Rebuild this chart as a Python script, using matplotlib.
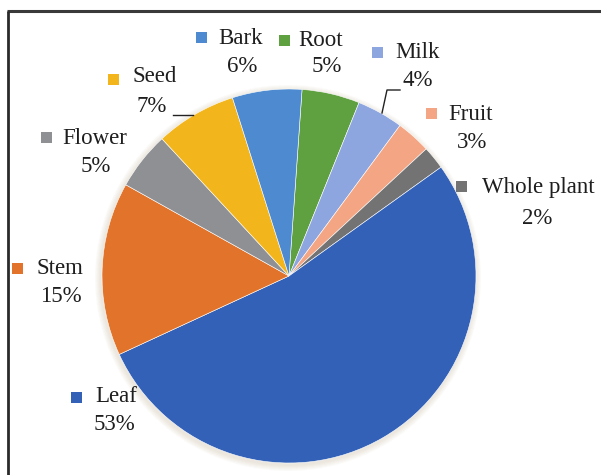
import matplotlib.pyplot as plt
from matplotlib.patches import Rectangle, Circle

# data, clockwise from the top of the pie
parts = ["Root", "Milk", "Fruit", "Whole plant", "Leaf", "Stem", "Flower", "Seed", "Bark"]
shares = [5, 4, 3, 2, 53, 15, 5, 7, 6]
colors = ["#5fa140", "#8ea6e0", "#f4a583", "#737373", "#3361b7",
          "#e2732a", "#8f9094", "#f2b51c", "#4d8ad0"]

W, H = 601, 475
cx, cy, r = 289, 276, 187          # pie centre / radius in image pixels (y down)

# label layout in image pixels: marker centre, name left x, name y, pct centre x, pct y
label_pos = {
    "Bark":        (201, 37, 218, 38, 242, 67),
    "Root":        (284, 40, 298, 40, 327, 67),
    "Milk":        (377, 52, 395, 52, 418, 80),
    "Fruit":       (431, 113, 448, 115, 472, 143),
    "Whole plant": (461, 186, 482, 188, 537, 218),
    "Seed":        (113, 79, 132, 77, 152, 107),
    "Flower":      (46, 137, 62, 138, 96, 166),
    "Stem":        (17, 268, 37, 268, 61, 297),
    "Leaf":        (76, 397, 95, 397, 114, 424),
}


def py(y):
    return H - y


plt.rcParams["font.family"] = ["Liberation Serif", "DejaVu Serif"]

fig = plt.figure(figsize=(W / 100, H / 100), dpi=100)
ax = fig.add_axes([0, 0, 1, 1])
ax.set_xlim(0, W)
ax.set_ylim(0, H)
ax.set_aspect("equal")
ax.axis("off")

# soft glow under the pie
for k in range(6):
    ax.add_patch(Circle((cx - 1, py(cy) - 2), r + 1 + k, color="#c8b89a",
                        alpha=0.06, lw=0, zorder=0))

wedges, _ = ax.pie(shares, colors=colors, startangle=86, counterclock=False,
                   center=(cx, py(cy)), radius=r,
                   wedgeprops=dict(edgecolor="white", linewidth=0.4))
ax.set_xlim(0, W)
ax.set_ylim(0, H)

col = dict(zip(parts, colors))
for name, val in zip(parts, shares):
    mx, my, nx, ny, px, pyy = label_pos[name]
    ax.add_patch(Rectangle((mx - 5.5, py(my) - 5.5), 11, 11, color=col[name], lw=0))
    ax.text(nx, py(ny), name, fontsize=16.5, color="#1e1e1e", ha="left", va="center")
    ax.text(px, py(pyy), f"{val}%", fontsize=16.5, color="#1e1e1e", ha="center", va="center")

# leader lines
ax.plot([173, 193], [py(115), py(115)], color="#222222", lw=1)
ax.plot([382, 387, 400], [py(113), py(90), py(90)], color="#222222", lw=1)

# frame (top and left edges visible in the screenshot)
ax.plot([7, W], [py(10.5), py(10.5)], color="#3a3a3a", lw=2.2, solid_capstyle="butt")
ax.plot([8, 8], [py(10.5), 0], color="#2a2a2a", lw=2, solid_capstyle="butt")

fig.savefig("out.png", dpi=100)
